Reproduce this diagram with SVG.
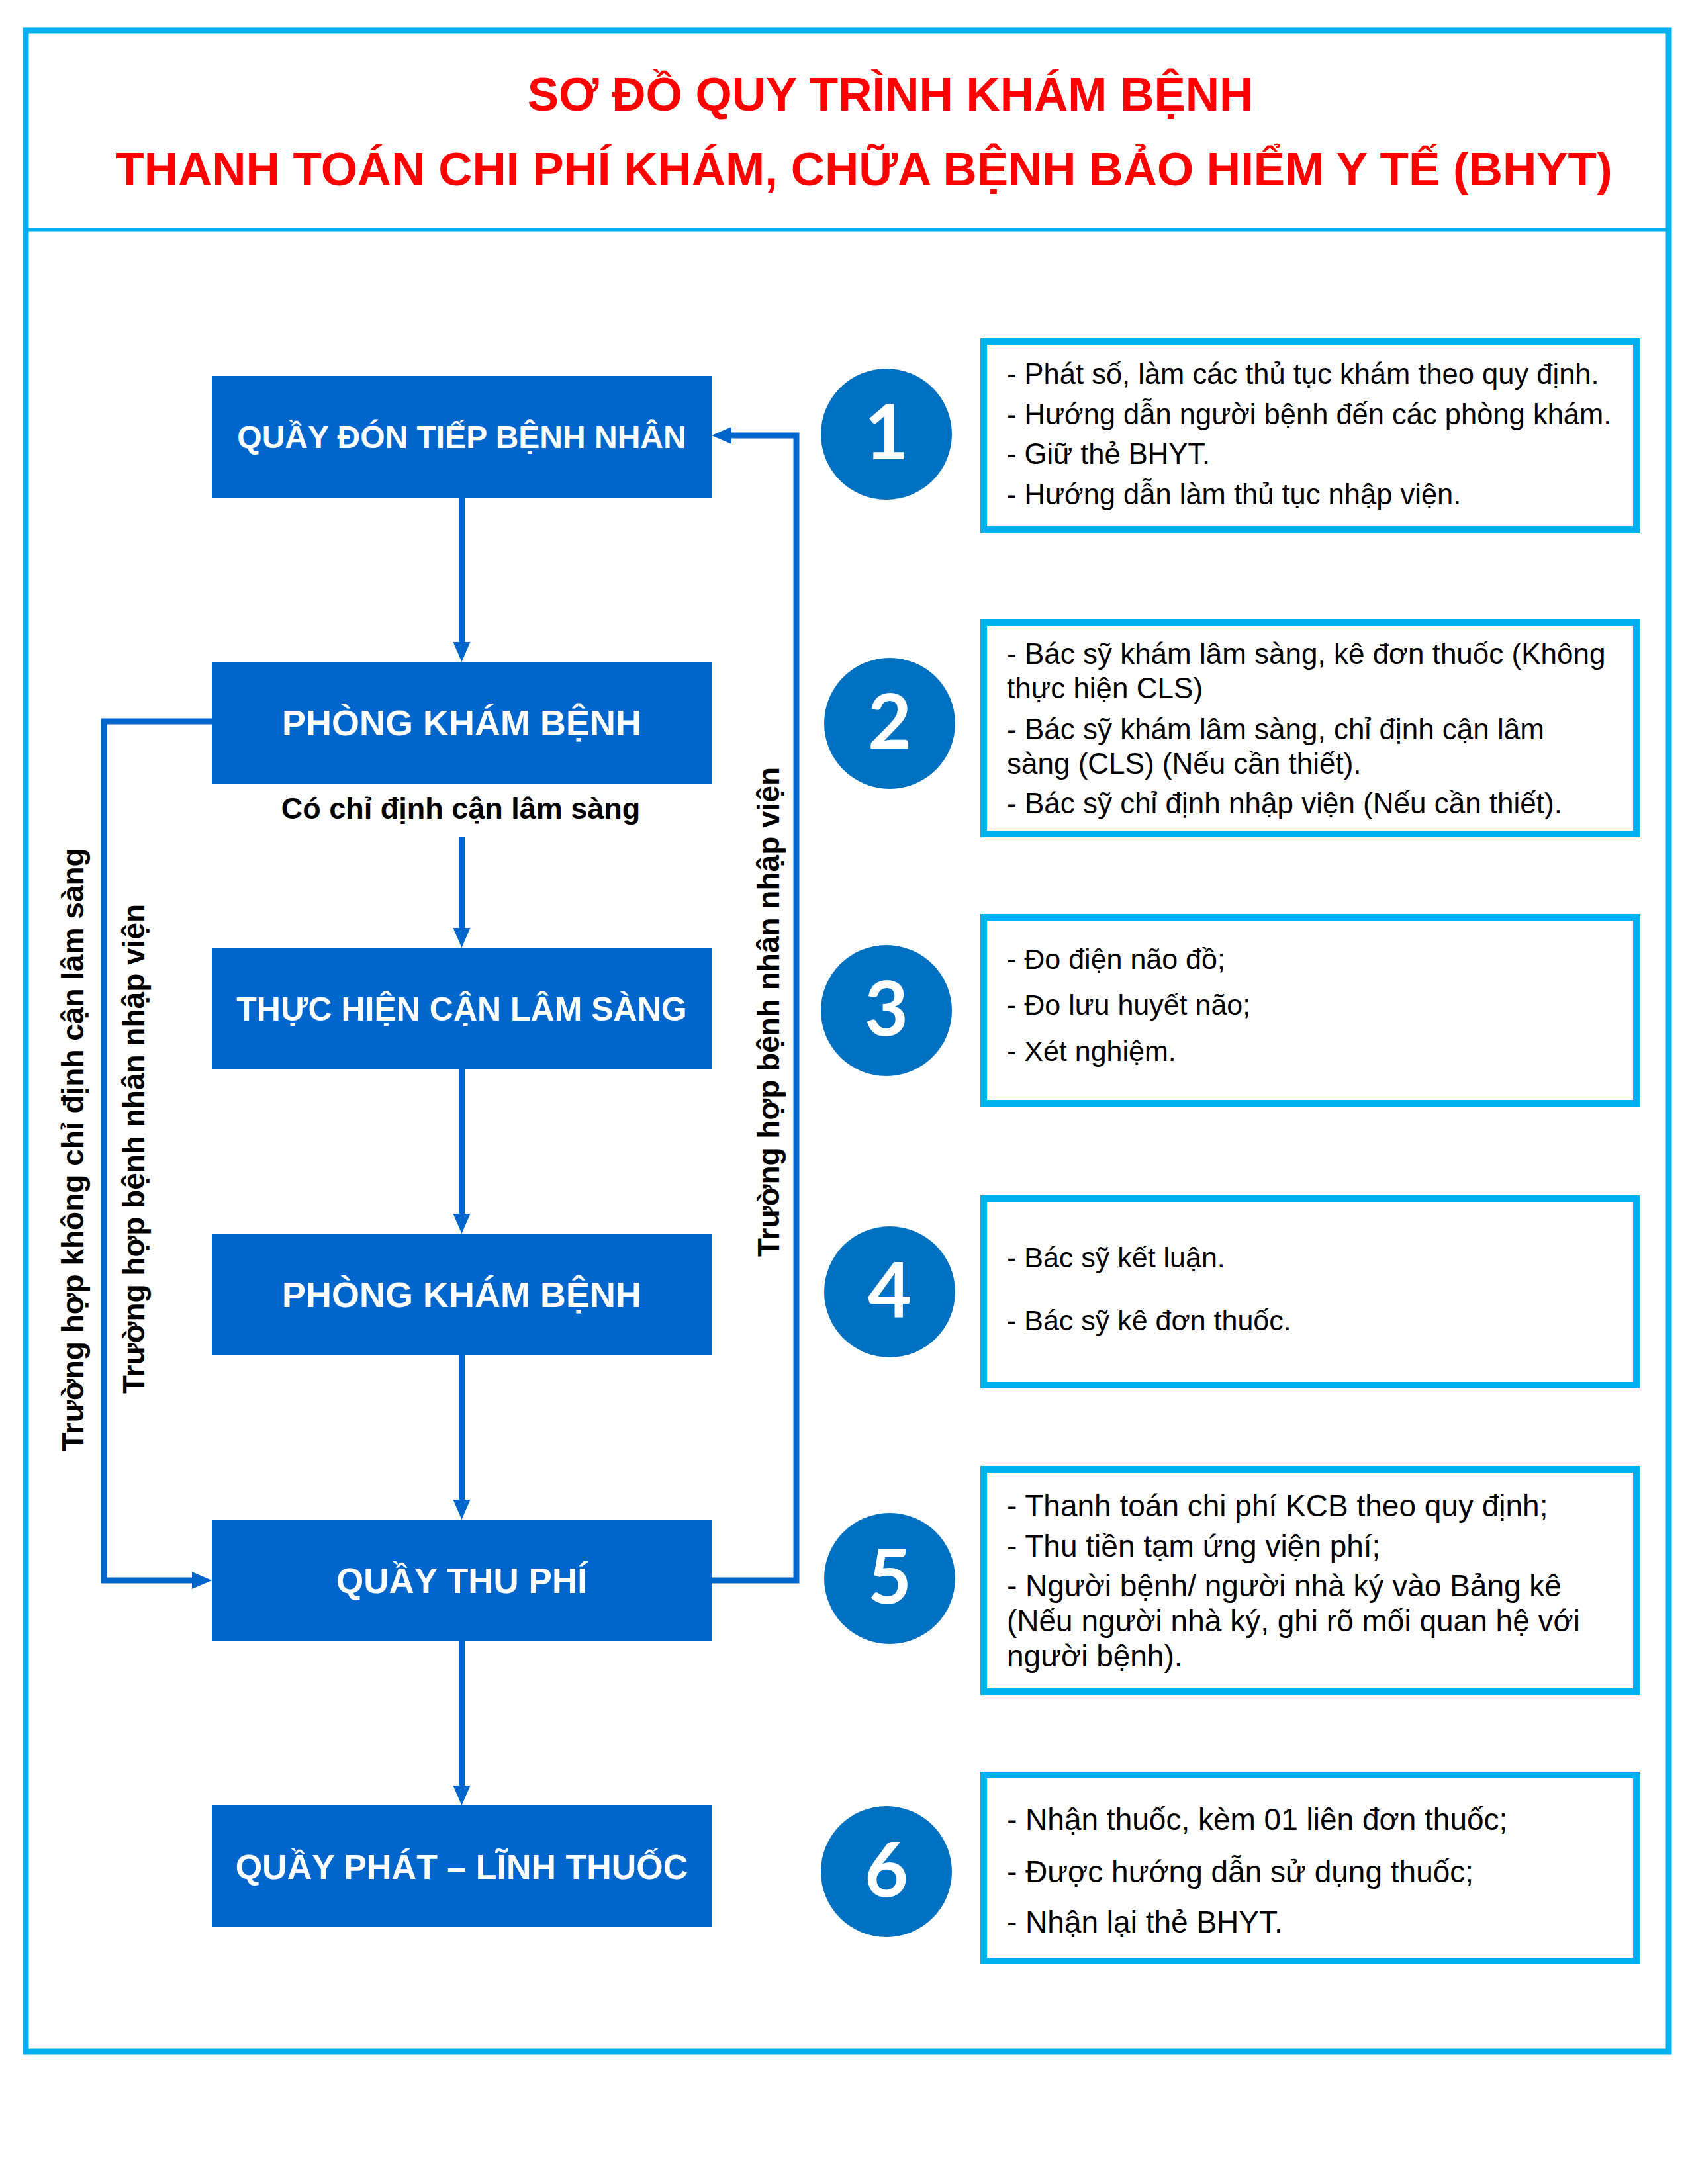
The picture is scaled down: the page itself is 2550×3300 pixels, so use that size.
<svg xmlns="http://www.w3.org/2000/svg" width="2550" height="3300" viewBox="0 0 2550 3300">
<defs>
<style>
.title{font-family:"Liberation Sans",Arial,sans-serif;font-weight:bold;font-size:71px;fill:#FF0000;text-anchor:middle}
.box{fill:#0066CC}
.btxt{font-family:"Liberation Sans",Arial,sans-serif;font-weight:bold;fill:#FFFFFF;text-anchor:middle}
.circ{fill:#0070C0}
.num{font-family:Lato,"Liberation Sans",sans-serif;font-weight:bold;font-size:114px;fill:#FFFFFF;text-anchor:middle}
.info{fill:#FFFFFF;stroke:#00B0F0;stroke-width:10}
.itxt{font-family:"Liberation Sans",Arial,sans-serif;fill:#000000}
.lbl{font-family:"Liberation Sans",Arial,sans-serif;font-weight:bold;fill:#000000;text-anchor:middle}
.conn{fill:none;stroke:#0066CC;stroke-width:9}
</style>
<marker id="ah" markerUnits="userSpaceOnUse" markerWidth="30" markerHeight="26" refX="1" refY="13" orient="auto" viewBox="0 0 30 26">
<path d="M0,0 L30,13 L0,26 z" fill="#0066CC"/>
</marker>
</defs>
<rect x="0" y="0" width="2550" height="3300" fill="#FFFFFF"/>
<g id="frame">
<rect x="39" y="46" width="2482" height="3054" fill="none" stroke="#00B0F0" stroke-width="9"/>
<line x1="39" y1="347" x2="2521" y2="347" stroke="#00B0F0" stroke-width="5"/>
</g>
<g id="title">
<text class="title" x="1345" y="167">SƠ ĐỒ QUY TRÌNH KHÁM BỆNH</text>
<text class="title" x="1305" y="280">THANH TOÁN CHI PHÍ KHÁM, CHỮA BỆNH BẢO HIỂM Y TẾ (BHYT)</text>
</g>
<g id="connectors">
<line class="conn" x1="697.5" y1="752" x2="697.5" y2="971" marker-end="url(#ah)"/>
<line class="conn" x1="697.5" y1="1264" x2="697.5" y2="1403" marker-end="url(#ah)"/>
<line class="conn" x1="697.5" y1="1616" x2="697.5" y2="1835" marker-end="url(#ah)"/>
<line class="conn" x1="697.5" y1="2048" x2="697.5" y2="2267" marker-end="url(#ah)"/>
<line class="conn" x1="697.5" y1="2480" x2="697.5" y2="2699" marker-end="url(#ah)"/>
<path class="conn" d="M320,1090 H157 V2388 H291" marker-end="url(#ah)"/>
<path class="conn" d="M1075,2388 H1203 V658 H1104" marker-end="url(#ah)"/>
</g>
<g id="labels">
<text class="lbl" font-size="45" x="696" y="1237">Có chỉ định cận lâm sàng</text>
<text class="lbl" font-size="46" transform="translate(126,1737) rotate(-90)">Trường hợp không chỉ định cận lâm sàng</text>
<text class="lbl" font-size="46" transform="translate(218,1736) rotate(-90)">Trường hợp bệnh nhân nhập viện</text>
<text class="lbl" font-size="46" transform="translate(1177,1529) rotate(-90)">Trường hợp bệnh nhân nhập viện</text>
</g>
<g id="node1">
<rect class="box" x="320" y="568" width="755" height="184"/>
<text class="btxt" font-size="48" x="697.5" y="677">QUẦY ĐÓN TIẾP BỆNH NHÂN</text>
</g>
<g id="node2">
<rect class="box" x="320" y="1000" width="755" height="184"/>
<text class="btxt" font-size="54" x="697.5" y="1111">PHÒNG KHÁM BỆNH</text>
</g>
<g id="node3">
<rect class="box" x="320" y="1432" width="755" height="184"/>
<text class="btxt" font-size="50" x="697.5" y="1542">THỰC HIỆN CẬN LÂM SÀNG</text>
</g>
<g id="node4">
<rect class="box" x="320" y="1864" width="755" height="184"/>
<text class="btxt" font-size="54" x="697.5" y="1975">PHÒNG KHÁM BỆNH</text>
</g>
<g id="node5">
<rect class="box" x="320" y="2296" width="755" height="184"/>
<text class="btxt" font-size="53" x="697.5" y="2407">QUẦY THU PHÍ</text>
</g>
<g id="node6">
<rect class="box" x="320" y="2728" width="755" height="184"/>
<text class="btxt" font-size="52" x="697.5" y="2839">QUẦY PHÁT – LĨNH THUỐC</text>
</g>
<g id="step1">
<circle class="circ" cx="1339" cy="656" r="99"/>
<text class="num" x="1339" y="694">1</text>
<rect class="info" x="1486" y="516" width="986" height="284"/>
<text class="itxt" font-size="43.5" x="1521" y="580">- Phát số, làm các thủ tục khám theo quy định.</text>
<text class="itxt" font-size="43.5" x="1521" y="641">- Hướng dẫn người bệnh đến các phòng khám.</text>
<text class="itxt" font-size="43.5" x="1521" y="701">- Giữ thẻ BHYT.</text>
<text class="itxt" font-size="43.5" x="1521" y="762">- Hướng dẫn làm thủ tục nhập viện.</text>
</g>
<g id="step2">
<circle class="circ" cx="1344" cy="1093" r="99"/>
<text class="num" x="1344" y="1131">2</text>
<rect class="info" x="1486" y="941" width="986" height="319"/>
<text class="itxt" font-size="44" x="1521" y="1003">- Bác sỹ khám lâm sàng, kê đơn thuốc (Không</text>
<text class="itxt" font-size="44" x="1521" y="1055">thực hiện CLS)</text>
<text class="itxt" font-size="44" x="1521" y="1117">- Bác sỹ khám lâm sàng, chỉ định cận lâm</text>
<text class="itxt" font-size="44" x="1521" y="1169">sàng (CLS) (Nếu cần thiết).</text>
<text class="itxt" font-size="44" x="1521" y="1229">- Bác sỹ chỉ định nhập viện (Nếu cần thiết).</text>
</g>
<g id="step3">
<circle class="circ" cx="1339" cy="1527" r="99"/>
<text class="num" x="1339" y="1565">3</text>
<rect class="info" x="1486" y="1386" width="986" height="281"/>
<text class="itxt" font-size="43" x="1521" y="1464">- Đo điện não đồ;</text>
<text class="itxt" font-size="43" x="1521" y="1533">- Đo lưu huyết não;</text>
<text class="itxt" font-size="43" x="1521" y="1603">- Xét nghiệm.</text>
</g>
<g id="step4">
<circle class="circ" cx="1344" cy="1952" r="99"/>
<text class="num" x="1344" y="1990">4</text>
<rect class="info" x="1486" y="1811" width="986" height="282"/>
<text class="itxt" font-size="43" x="1521" y="1915">- Bác sỹ kết luận.</text>
<text class="itxt" font-size="43" x="1521" y="2010">- Bác sỹ kê đơn thuốc.</text>
</g>
<g id="step5">
<circle class="circ" cx="1344" cy="2385" r="99"/>
<text class="num" x="1344" y="2423">5</text>
<rect class="info" x="1486" y="2220" width="986" height="336"/>
<text class="itxt" font-size="46" x="1521" y="2291">- Thanh toán chi phí KCB theo quy định;</text>
<text class="itxt" font-size="46" x="1521" y="2352">- Thu tiền tạm ứng viện phí;</text>
<text class="itxt" font-size="46" x="1521" y="2412">- Người bệnh/ người nhà ký vào Bảng kê</text>
<text class="itxt" font-size="46" x="1521" y="2465">(Nếu người nhà ký, ghi rõ mối quan hệ với</text>
<text class="itxt" font-size="46" x="1521" y="2518">người bệnh).</text>
</g>
<g id="step6">
<circle class="circ" cx="1339" cy="2828" r="99"/>
<text class="num" x="1339" y="2866">6</text>
<rect class="info" x="1486" y="2682" width="986" height="281"/>
<text class="itxt" font-size="46" x="1521" y="2765">- Nhận thuốc, kèm 01 liên đơn thuốc;</text>
<text class="itxt" font-size="46" x="1521" y="2844">- Được hướng dẫn sử dụng thuốc;</text>
<text class="itxt" font-size="46" x="1521" y="2920">- Nhận lại thẻ BHYT.</text>
</g>
</svg>
